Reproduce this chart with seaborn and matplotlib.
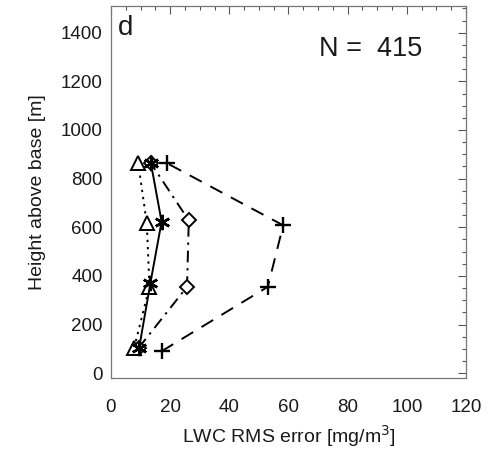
import matplotlib
matplotlib.use("Agg")
import matplotlib.pyplot as plt
from matplotlib.ticker import MultipleLocator
import seaborn as sns

sns.set_theme(style="white")
plt.rcParams["font.family"] = ["Liberation Sans", "DejaVu Sans"]

# RMS error profiles per retrieval method (x: mg/m^3, y: height above base in m)
plus_x = [17.1, 53.0, 58.2, 19.0]
plus_y = [90, 355, 608, 863]
diamond_x = [9.3, 25.7, 26.3, 13.5]
diamond_y = [103, 355, 628, 863]
star_x = [9.5, 13.3, 17.1, 13.5]
star_y = [103, 369, 623, 863]
tri_x = [7.8, 13.0, 12.1, 9.2]
tri_y = [103, 355, 616, 863]

panel_label = "d"
n_label = "N =  415"
x_ticks = [0, 20, 40, 60, 80, 100, 120]
y_ticks = [0, 200, 400, 600, 800, 1000, 1200, 1400]

fig = plt.figure(figsize=(4.89, 4.49), dpi=100)
ax = fig.add_axes([111 / 489, 1 - 378 / 449, 355 / 489, 372 / 449])

common = dict(ax=ax, sort=False, color="black", lw=1.4, legend=False)
sns.lineplot(x=plus_x, y=plus_y, linestyle=(0, (7, 5)), marker="+", ms=12,
             mew=1.7, mec="black", **common)
sns.lineplot(x=diamond_x, y=diamond_y, linestyle=(0, (6, 3, 1.2, 3)), marker="D",
             ms=7, mew=1.4, mfc="white", mec="black", **common)
sns.lineplot(x=tri_x, y=tri_y, linestyle=(0, (1.2, 2.5)), marker="^", ms=10,
             mew=1.4, mfc="white", mec="black", **common)
sns.lineplot(x=star_x, y=star_y, linestyle="-", marker=(6, 2, 0), ms=11,
             mew=1.8, mec="black", **common)

ax.set_xlim(0, 120)
ax.set_ylim(-20, 1510)
ax.set_xticks(x_ticks)
ax.set_yticks(y_ticks)
ax.xaxis.set_minor_locator(MultipleLocator(5))
ax.yaxis.set_minor_locator(MultipleLocator(50))
ax.tick_params(which="both", direction="in", top=True, right=True,
               color="#555555", width=0.8, labelsize=13.5, labelcolor="#1a1a1a")
ax.tick_params(which="major", length=6)
ax.tick_params(which="minor", length=3)
ax.tick_params(axis="x", pad=15)
ax.tick_params(axis="y", pad=6)
for s in ax.spines.values():
    s.set_color("#777777")
    s.set_linewidth(0.9)

ax.set_xlabel("LWC RMS error [mg/m$^{3}$]", fontsize=14, labelpad=5,
              color="#1a1a1a")
ax.set_ylabel("Height above base [m]", fontsize=14, labelpad=11,
              color="#1a1a1a")

ax.text(0.02, 0.975, panel_label, transform=ax.transAxes, fontsize=20,
        va="top", ha="left", color="#1a1a1a")
ax.text(0.732, 0.884, n_label, transform=ax.transAxes, fontsize=19.5,
        va="center", ha="center", color="#1a1a1a")

fig.savefig("out.png", dpi=100)
